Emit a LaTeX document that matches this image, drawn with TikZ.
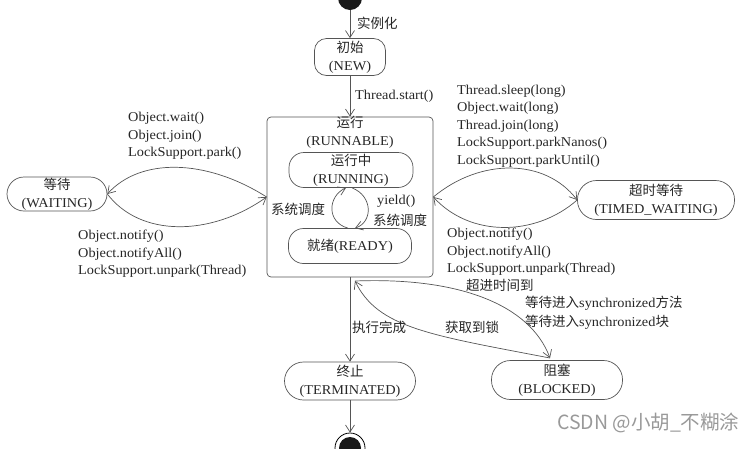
\documentclass[tikz,border=0pt]{standalone}
\usepackage{fontspec}
\setmainfont{Liberation Serif}[FakeStretch=1.06]
\newfontfamily\cjk{Noto Sans CJK SC}
\usetikzlibrary{arrows.meta}
\definecolor{linec}{HTML}{555555}
\definecolor{txt}{HTML}{262626}
\tikzset{
  lab/.style={anchor=west, inner sep=0pt, align=left, text=txt, font=\fontsize{13.5pt}{17.5pt}\selectfont},
  st/.style={draw=linec, line width=0.7pt, rounded corners=15pt, align=center, inner sep=0pt, text=txt, font=\fontsize{13.5pt}{18pt}\selectfont},
  arr/.style={draw=linec, line width=0.7pt, -{Straight Barb[length=7pt,width=9pt]}},
}
\begin{document}
\begin{tikzpicture}[x=1pt,y=-1pt]
\useasboundingbox (0,0) rectangle (755,448);
% states
\node[circle, fill=black!90, minimum size=24pt, inner sep=0pt] (init) at (350,-2) {};
\node[st, rounded corners=12pt, minimum width=71pt, minimum height=37pt] (new) at (350,57) {{\cjk 初始}\\(NEW)};
\node[draw=linec, line width=0.7pt, rounded corners=4pt, minimum width=166pt, minimum height=160pt, inner sep=0pt] (runnable) at (350,197) {};
\node[st, draw=none, anchor=north] (runlbl) at (350,116) {{\cjk 运行}\\(RUNNABLE)};
\node[st, minimum width=124pt, minimum height=35pt] (running) at (351,170) {{\cjk 运行中}\\(RUNNING)};
\node[st, minimum width=123pt, minimum height=35pt] (ready) at (350,246) {{\cjk 就绪}(READY)};
\node[st, rounded corners=17pt, minimum width=100pt, minimum height=34pt] (waiting) at (57,194) {{\cjk 等待}\\(WAITING)};
\node[st, rounded corners=19pt, minimum width=157pt, minimum height=39pt] (timed) at (656,200) {{\cjk 超时等待}\\(TIMED\_WAITING)};
\node[st, rounded corners=19pt, minimum width=131pt, minimum height=38pt] (term) at (350,381) {{\cjk 终止}\\(TERMINATED)};
\node[st, rounded corners=19pt, minimum width=131pt, minimum height=39pt] (blocked) at (557,380) {{\cjk 阻塞}\\(BLOCKED)};
\node[circle, draw=black, line width=0.8pt, minimum size=30pt, inner sep=0pt] (final) at (350,448) {};
\fill[black!90] (final.center) circle (11pt);
% straight arrows
\draw[arr] (init.south) -- (new.north);
\draw[arr] (new.south) -- (runnable.north);
\draw[arr] (runnable.south) -- (term.north);
\draw[arr] (term.south) -- (final.north);
% waiting lens
\draw[arr] (runnable.west) .. controls (205,158) and (140,158) .. (waiting.east);
\draw[arr] (waiting.east) .. controls (140,237) and (210,237) .. (runnable.west);
% timed lens
\draw[arr] (runnable.east) .. controls (480,158) and (545,158) .. (timed.west);
\draw[arr] (timed.west) .. controls (535,237) and (470,237) .. (runnable.east);
% running/ready cycle
\draw[arr] ([xshift=-2pt]ready.north) .. controls (326,222) and (328,196) .. ([xshift=-5pt]running.south);
\draw[arr] ([xshift=1pt]running.south) .. controls (373,196) and (373,222) .. ([xshift=5pt]ready.north);
% blocked
\coordinate (rb) at (355,281);
\coordinate (bt) at (550,358);
\draw[arr] (rb) .. controls (460,277) and (530,305) .. (bt);
\draw[arr] (bt) .. controls (430,335) and (378,328) .. (rb);
% labels
\node[lab] (l1) at (357,23) {\cjk 实例化};
\node[lab] (l2) at (355,96) {Thread.start()};
\node[lab] (l3) at (271,209) {\cjk 系统调度};
\node[lab] (l4) at (377,201) {yield()};
\node[lab] (l5) at (373,220) {\cjk 系统调度};
\node[lab] (l6) at (128,136) {Object.wait()\\Object.join()\\LockSupport.park()};
\node[lab] (l7) at (78,254) {Object.notify()\\Object.notifyAll()\\LockSupport.unpark(Thread)};
\node[lab] (l8) at (457,126) {Thread.sleep(long)\\Object.wait(long)\\Thread.join(long)\\LockSupport.parkNanos()\\LockSupport.parkUntil()};
\node[lab] (l9) at (447,252) {Object.notify()\\Object.notifyAll()\\LockSupport.unpark(Thread)};
\node[lab] (l10) at (466,285) {\cjk 超进时间到};
\node[lab] (l11) at (525,303) {{\cjk 等待进入}synchronized{\cjk 方法}};
\node[lab] (l12) at (525,322) {{\cjk 等待进入}synchronized{\cjk 块}};
\node[lab] (l13) at (445,327) {\cjk 获取到锁};
\node[lab] (l14) at (352,327) {\cjk 执行完成};
\node[anchor=west, inner sep=0pt, text=black!40, font=\cjk\fontsize{19.5pt}{19.5pt}\selectfont] (wm) at (557,423) {CSDN @小胡\_不糊涂};
\end{tikzpicture}
\end{document}
